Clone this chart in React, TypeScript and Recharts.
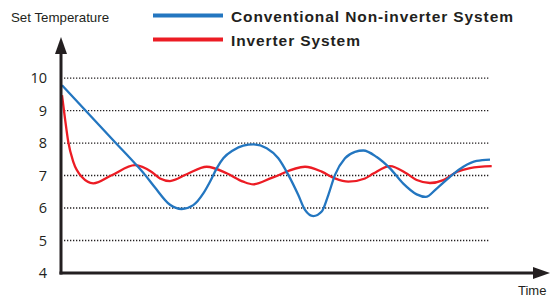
import React from 'react';
import { LineChart, Line, XAxis, YAxis, ReferenceLine, Legend } from 'recharts';

// time (arbitrary units along the axis) and temperature values
const blueTime = [1, 55.7, 74, 84, 94, 109, 120.7, 132.3, 142.3, 149, 155.7, 162.3, 172.3, 182.3, 192.3, 205.7, 217.3, 227.3, 237.3, 244, 252.3, 260.7, 267.3, 274, 284, 294, 302.3, 315.7, 329, 342.3, 355.7, 364.7, 375.7, 389, 402.3, 415.7, 429];
const blueTemp = [9.78, 7.97, 7.37, 7.02, 6.63, 6.1, 5.97, 6.09, 6.45, 6.81, 7.22, 7.53, 7.78, 7.92, 7.96, 7.84, 7.53, 7.02, 6.4, 5.94, 5.75, 5.89, 6.4, 7.02, 7.53, 7.73, 7.77, 7.57, 7.22, 6.75, 6.42, 6.34, 6.6, 6.96, 7.27, 7.45, 7.49];

const redTime = [1, 4, 7.3, 12.3, 20.7, 32.3, 50.7, 74, 90.7, 99, 109, 125.7, 145.7, 165.7, 182.3, 192.3, 210.7, 244, 260.7, 274, 287.3, 304, 312.3, 329, 345.7, 355.7, 369, 382.3, 395.7, 409, 430.7];
const redTemp = [9.47, 8.75, 8.03, 7.42, 6.96, 6.76, 7.01, 7.32, 7.11, 6.91, 6.83, 7.04, 7.27, 7.07, 6.81, 6.73, 6.93, 7.27, 7.12, 6.91, 6.81, 6.91, 7.06, 7.29, 7.06, 6.86, 6.77, 6.86, 7.11, 7.23, 7.29];

const yTicks = [4, 5, 6, 7, 8, 9, 10];
const gridValues = [5, 6, 7, 8, 9, 10];
const gridStart = 3;
const gridEnd = 429;

const seriesNames = ['Conventional Non-inverter System', 'Inverter System'];
const yTitle = 'Set Temperature';
const xTitle = 'Time';

const blueData = blueTime.map((t, i) => ({ t, v: blueTemp[i] }));
const redData = redTime.map((t, i) => ({ t, v: redTemp[i] }));

const BLUE = '#2376c0';
const RED = '#ec1c24';
const INK = '#231f20';

const legendFont = {
  fontFamily: 'Liberation Sans, Arial, sans-serif',
  fontWeight: 'bold' as const,
  fontSize: 15.5,
  letterSpacing: 0.9,
};

const renderLegend = () => (
  <svg width={554} height={52} style={{ display: 'block' }}>
    <line x1={153} x2={223} y1={15.5} y2={15.5} stroke={BLUE} strokeWidth={4} />
    <text x={231} y={21.5} {...legendFont} fill={INK}>
      {seriesNames[0]}
    </text>
    <line x1={153} x2={223} y1={39.5} y2={39.5} stroke={RED} strokeWidth={4} />
    <text x={231} y={45.5} {...legendFont} fill={INK}>
      {seriesNames[1]}
    </text>
  </svg>
);

export default function App() {
  return (
    <div style={{ position: 'absolute', left: 0, top: 0, width: 554, height: 298, background: '#fff' }}>
      <LineChart width={554} height={298} margin={{ top: 54, right: 21, bottom: 24, left: 0 }}>
        <defs>
          <marker id="axisArrow" markerUnits="userSpaceOnUse" markerWidth={18} markerHeight={12} refX={0} refY={6} orient="auto-start-reverse">
            <path d="M0,0 L17,6 L0,12 Z" fill={INK} />
          </marker>
        </defs>
        <XAxis
          type="number"
          dataKey="t"
          domain={[0, 472]}
          allowDataOverflow
          height={1}
          tick={false}
          tickLine={false}
          axisLine={{ stroke: INK, strokeWidth: 3, strokeLinecap: 'square', markerEnd: 'url(#axisArrow)' }}
        />
        <YAxis
          type="number"
          domain={[4, 10.74]}
          allowDataOverflow
          ticks={yTicks}
          width={61}
          tickSize={0}
          tickMargin={14}
          tickLine={false}
          tick={{ fill: INK, fontSize: 14.5, fontFamily: 'Open Sans, sans-serif' }}
          axisLine={{ stroke: INK, strokeWidth: 3, strokeLinecap: 'square', markerStart: 'url(#axisArrow)' }}
        />
        {gridValues.map((g) => (
          <ReferenceLine
            key={g}
            segment={[{ x: gridStart, y: g }, { x: gridEnd, y: g }]}
            stroke={INK}
            strokeWidth={1.3}
            strokeDasharray="1.3 1.7"
          />
        ))}
        <Line data={redData} dataKey="v" type="monotone" stroke={RED} strokeWidth={2.3} dot={false} isAnimationActive={false} />
        <Line data={blueData} dataKey="v" type="monotone" stroke={BLUE} strokeWidth={2.3} dot={false} isAnimationActive={false} />
        <Legend
          layout="vertical"
          align="center"
          verticalAlign="middle"
          content={renderLegend}
          wrapperStyle={{ left: 0, top: 0, width: 554, height: 52 }}
        />
        <text x={11} y={22} fontFamily="Liberation Sans, Arial, sans-serif" fontSize={13.3} fill={INK}>
          {yTitle}
        </text>
        <text x={518} y={295} fontFamily="Liberation Sans, Arial, sans-serif" fontSize={13} fill={INK}>
          {xTitle}
        </text>
      </LineChart>
    </div>
  );
}
